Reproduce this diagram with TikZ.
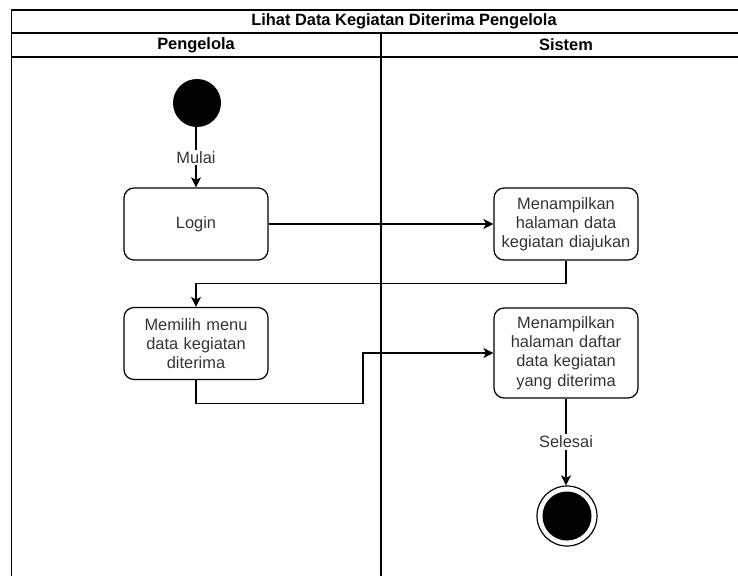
\documentclass[tikz,border=0pt]{standalone}
\usepackage{fontspec}
\setmainfont{Liberation Sans}
\usetikzlibrary{arrows.meta}
\definecolor{txt}{HTML}{333333}
\tikzset{
  act/.style={draw, rounded corners=10pt, line width=1.2pt, minimum width=144pt,
    minimum height=72pt, align=center, text=txt, inner sep=2pt, text width=138pt,
    font=\fontsize{16.4}{19.2}\selectfont},
  flow/.style={-{Stealth[width=10pt,length=10pt,inset=2.5pt]}, line width=1.2pt},
  lbl/.style={fill=white, text=txt, inner sep=1.5pt, font=\fontsize{16.4}{19.2}\selectfont},
  lane/.style={line width=1.2pt},
  head/.style={font=\bfseries\fontsize{16.4}{19.2}\selectfont, inner sep=0pt},
}
\begin{document}
\begin{tikzpicture}[x=1pt,y=-1pt]
\useasboundingbox (0,0) rectangle (738,575);
\clip (0,0) rectangle (738,575);
% swimlane frame
\draw[lane] (11.5,600) -- (11.5,10) -- (800,10);
\draw[lane] (11.5,33) -- (800,33);
\draw[lane] (11.5,57) -- (800,57);
\draw[lane] (381,33) -- (381,600);
\node[head] (title) at (404,21.5) {Lihat Data Kegiatan Diterima Pengelola};
\node[head] (lane1) at (196,45) {Pengelola};
\node[head] (lane2) at (566,45) {Sistem};
% nodes
\node[circle, fill=black, minimum size=48pt, inner sep=0pt] (start) at (197,103) {};
\node[act] (login) at (196,224) {Login};
\node[act] (tampil1) at (566,224) {Menampilkan\\halaman data\\kegiatan diajukan};
\node[act] (pilih) at (196,343.5) {Memilih menu\\data kegiatan\\diterima};
\node[act, minimum height=90pt] (tampil2) at (566,353) {Menampilkan\\halaman daftar\\data kegiatan\\yang diterima};
\node[circle, draw, line width=1.2pt, minimum size=60pt, inner sep=0pt] (end) at (567,516) {};
\node[circle, fill=black, minimum size=49pt, inner sep=0pt] (endin) at (end.center) {};
% edges
\draw[flow] (start.south -| login.north) -- node[lbl] {Mulai} (login.north);
\draw[flow] (login.east) -- (tampil1.west);
\draw[flow] (tampil1.south) -- ++(0,23) -| (pilih.north);
\draw[flow] (pilih.south) -- ++(0,23) -- ++(167,0) |- (tampil2.west);
\draw[flow] (tampil2.south) -- node[lbl] {Selesai} (end.north -| tampil2.south);
\end{tikzpicture}
\end{document}
